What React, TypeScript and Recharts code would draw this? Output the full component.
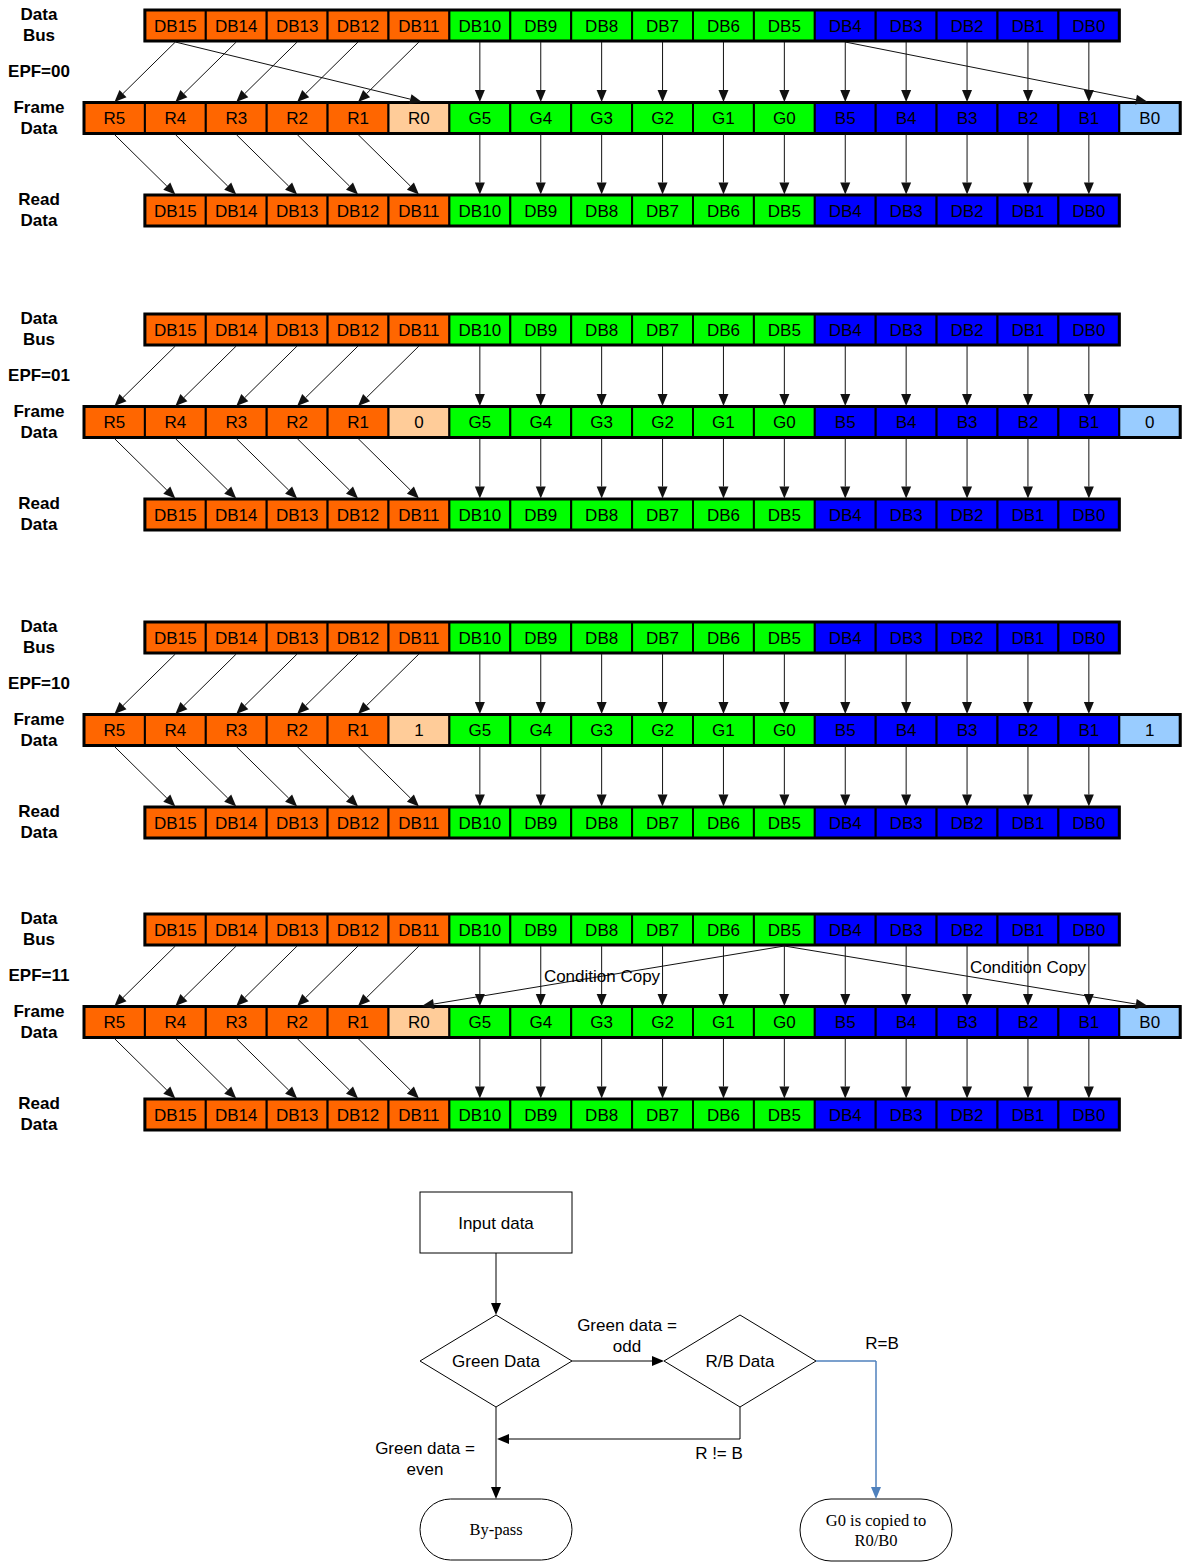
import React from "react";
import { ComposedChart, XAxis, YAxis, ReferenceArea, ReferenceLine, ReferenceDot } from "recharts";

const W = 1191;
const H = 1564;

// ---- data ----
const epfModes = ["EPF=00", "EPF=01", "EPF=10", "EPF=11"];
const busLabels = ["DB15", "DB14", "DB13", "DB12", "DB11", "DB10", "DB9", "DB8", "DB7", "DB6", "DB5", "DB4", "DB3", "DB2", "DB1", "DB0"];
const frameRed = ["R5", "R4", "R3", "R2", "R1"];
const frameGreen = ["G5", "G4", "G3", "G2", "G1", "G0"];
const frameBlue = ["B5", "B4", "B3", "B2", "B1"];
const redLsb = ["R0", "0", "1", "R0"];
const blueLsb = ["B0", "0", "1", "B0"];
const rowNames = [["Data", "Bus"], ["Frame", "Data"], ["Read", "Data"]];

// extra links into the LSB cells, per EPF mode
const lsbLinks = [
  [{ from: "DB15", to: "R0", label: "" }, { from: "DB4", to: "B0", label: "" }],
  [],
  [],
  [{ from: "DB5", to: "R0", label: "Condition Copy" }, { from: "DB5", to: "B0", label: "Condition Copy" }],
];

const flowTexts = [["Input data"], ["Green Data"], ["R/B Data"], ["By-pass"], ["G0 is copied to", "R0/B0"]];
const flowNotes = [["Green data =", "odd"], ["R != B"], ["Green data =", "even"], ["R=B"]];

// ---- layout ----
const X0 = 84;
const CW = 60.9;
const CH = 31;
const blockTop = [10, 314, 622, 914];
const FRAME_OFF = 92.5;
const READ_OFF = 185;
const condLabelPos = [{ x: 602, dy: 62 }, { x: 1028, dy: 53 }];

const flowBoxes = [
  { kind: "rect", x1: 420, x2: 572, y1: 1192, y2: 1253 },
  { kind: "diamond", x1: 420, x2: 572, y1: 1315, y2: 1407 },
  { kind: "diamond", x1: 664, x2: 816, y1: 1315, y2: 1407 },
  { kind: "stadium", x1: 420, x2: 572, y1: 1499, y2: 1560 },
  { kind: "stadium", x1: 800, x2: 952, y1: 1499, y2: 1561 },
];
const flowNotePos = [{ x: 627, y: 1325 }, { x: 719, y: 1453 }, { x: 425, y: 1448 }, { x: 882, y: 1343 }];
const flowEdges = [
  { a: [496, 1253], b: [496, 1315], head: true, blue: false },
  { a: [572, 1361], b: [664, 1361], head: true, blue: false },
  { a: [740, 1407], b: [740, 1439], head: false, blue: false },
  { a: [740, 1439], b: [497, 1439], head: true, blue: false },
  { a: [496, 1407], b: [496, 1499], head: true, blue: false },
  { a: [816, 1361], b: [876, 1361], head: false, blue: true },
  { a: [876, 1361], b: [876, 1499], head: true, blue: true },
];

const COLORS: Record<string, string> = {
  red: "#FF6600",
  redLsb: "#FFCC99",
  green: "#00FF00",
  blue: "#0000FF",
  blueLsb: "#99CCFF",
};
const SANS = "'Liberation Sans', Arial, sans-serif";
const SERIF = "'Liberation Serif', 'Times New Roman', serif";

const colLeft = (c: number) => X0 + c * CW;
const colCenter = (c: number) => X0 + c * CW + CW / 2;
const busKind = (i: number) => (i < 5 ? "red" : i < 11 ? "green" : "blue");
const frameKind = (c: number) =>
  c < 5 ? "red" : c === 5 ? "redLsb" : c < 12 ? "green" : c < 17 ? "blue" : "blueLsb";
const lsbCol: Record<string, number> = { R0: 5, B0: 17 };

const cellShape = (text: string) => (p: any) => (
  <g>
    <rect x={p.x} y={p.y} width={p.width} height={p.height} fill={p.fill} stroke="#000" strokeWidth={2} />
    <text x={p.x + p.width / 2} y={p.y + p.height / 2} dy="0.36em" textAnchor="middle"
      fontFamily={SANS} fontSize={17} fill="#000">{text}</text>
  </g>
);

const arrowShape = (color: string, head: boolean, width = 1) => (p: any) => {
  const x1 = +p.x1, y1 = +p.y1, x2 = +p.x2, y2 = +p.y2;
  const dx = x2 - x1, dy = y2 - y1;
  const len = Math.hypot(dx, dy) || 1;
  const ux = dx / len, uy = dy / len;
  const hl = 12, hw = 5;
  const bx = x2 - ux * hl, by = y2 - uy * hl;
  return (
    <g>
      <line x1={x1} y1={y1} x2={head ? bx : x2} y2={head ? by : y2} stroke={color} strokeWidth={width} />
      {head && (
        <polygon
          points={`${x2},${y2} ${bx - uy * hw},${by + ux * hw} ${bx + uy * hw},${by - ux * hw}`}
          fill={color}
        />
      )}
    </g>
  );
};

const textShape = (lines: string[], opts: { bold?: boolean; size?: number; serif?: boolean; gap?: number; top?: boolean }) => (p: any) => {
  const size = opts.size ?? 17;
  const gap = opts.gap ?? 21;
  const start = opts.top ? p.cy : p.cy - ((lines.length - 1) * gap) / 2;
  return (
    <g>
      {lines.map((l, k) => (
        <text key={k} x={p.cx} y={start + k * gap} dy="0.36em" textAnchor="middle"
          fontFamily={opts.serif ? SERIF : SANS} fontWeight={opts.bold ? "bold" : "normal"}
          fontSize={size} fill="#000">{l}</text>
      ))}
    </g>
  );
};

const flowShape = (kind: string, lines: string[]) => (p: any) => {
  const { x, y, width: w, height: h } = p;
  const cx = x + w / 2, cy = y + h / 2;
  const serif = kind === "stadium";
  let outline;
  if (kind === "diamond") {
    outline = <polygon points={`${cx},${y} ${x + w},${cy} ${cx},${y + h} ${x},${cy}`} fill="#fff" stroke="#000" strokeWidth={1} />;
  } else if (kind === "stadium") {
    outline = <rect x={x} y={y} width={w} height={h} rx={h / 2} ry={h / 2} fill="#fff" stroke="#000" strokeWidth={1} />;
  } else {
    outline = <rect x={x} y={y} width={w} height={h} fill="#fff" stroke="#000" strokeWidth={1} />;
  }
  const gap = 20;
  const start = cy - ((lines.length - 1) * gap) / 2;
  return (
    <g>
      {outline}
      {lines.map((l, k) => (
        <text key={k} x={cx} y={start + k * gap} dy="0.36em" textAnchor="middle"
          fontFamily={serif ? SERIF : SANS} fontSize={serif ? 16.5 : 17} fill="#000">{l}</text>
      ))}
    </g>
  );
};

export default function App() {
  const blocks = epfModes.map((mode, m) => {
    const top = blockTop[m];
    const busY = [top, top + CH];
    const frameY = [top + FRAME_OFF, top + FRAME_OFF + CH];
    const readY = [top + READ_OFF, top + READ_OFF + CH];
    const frameLabels = [...frameRed, redLsb[m], ...frameGreen, ...frameBlue, blueLsb[m]];
    const els: React.ReactNode[] = [];

    // arrows bus -> frame
    busLabels.forEach((_, i) => {
      const c = i + 1;
      const t = c <= 5 ? c - 1 : c;
      els.push(
        <ReferenceLine key={`bf-${m}-${i}`} segment={[{ x: colCenter(c), y: busY[1] + 1 }, { x: colCenter(t), y: frameY[0] - 0.5 }]}
          shape={arrowShape("#111", true)} />
      );
    });
    // arrows frame -> read
    frameLabels.forEach((_, c) => {
      if (c === 5 || c === 17) return;
      const t = c < 5 ? c + 1 : c;
      els.push(
        <ReferenceLine key={`fr-${m}-${c}`} segment={[{ x: colCenter(c), y: frameY[1] + 1 }, { x: colCenter(t), y: readY[0] - 0.5 }]}
          shape={arrowShape("#111", true)} />
      );
    });
    // LSB links
    lsbLinks[m].forEach((lk, k) => {
      const c = busLabels.indexOf(lk.from) + 1;
      const t = lsbCol[lk.to];
      els.push(
        <ReferenceLine key={`lsb-${m}-${k}`} segment={[{ x: colCenter(c), y: busY[1] + 1 }, { x: colCenter(t) + (t === 5 ? 3 : -2), y: frameY[0] - 0.5 }]}
          shape={arrowShape("#111", true)} />
      );
      if (lk.label) {
        els.push(
          <ReferenceDot key={`lsbl-${m}-${k}`} x={condLabelPos[k].x} y={top + condLabelPos[k].dy} r={0}
            shape={textShape([lk.label], {})} />
        );
      }
    });

    // cells
    busLabels.forEach((lab, i) => {
      els.push(
        <ReferenceArea key={`b-${m}-${i}`} x1={colLeft(i + 1)} x2={colLeft(i + 2)} y1={busY[0]} y2={busY[1]}
          fill={COLORS[busKind(i)]} fillOpacity={1} shape={cellShape(lab)} />
      );
      els.push(
        <ReferenceArea key={`r-${m}-${i}`} x1={colLeft(i + 1)} x2={colLeft(i + 2)} y1={readY[0]} y2={readY[1]}
          fill={COLORS[busKind(i)]} fillOpacity={1} shape={cellShape(lab)} />
      );
    });
    frameLabels.forEach((lab, c) => {
      els.push(
        <ReferenceArea key={`f-${m}-${c}`} x1={colLeft(c)} x2={colLeft(c + 1)} y1={frameY[0]} y2={frameY[1]}
          fill={COLORS[frameKind(c)]} fillOpacity={1} shape={cellShape(lab)} />
      );
    });
    // row outlines
    [
      [1, 17, busY],
      [0, 18, frameY],
      [1, 17, readY],
    ].forEach(([a, b, ys]: any, k) => {
      els.push(
        <ReferenceArea key={`o-${m}-${k}`} x1={colLeft(a)} x2={colLeft(b)} y1={ys[0]} y2={ys[1]}
          fill="none" fillOpacity={0} stroke="#000" strokeWidth={3} />
      );
    });

    // row labels
    const rowCenters = [(busY[0] + busY[1]) / 2, (frameY[0] + frameY[1]) / 2, (readY[0] + readY[1]) / 2];
    rowNames.forEach((lines, k) => {
      els.push(
        <ReferenceDot key={`rn-${m}-${k}`} x={39} y={rowCenters[k] - 1} r={0} shape={textShape(lines, { bold: true })} />
      );
    });
    els.push(
      <ReferenceDot key={`epf-${m}`} x={39} y={(busY[1] + frameY[0]) / 2 - 1} r={0} shape={textShape([mode], { bold: true })} />
    );
    return els;
  });

  return (
    <div style={{ position: "absolute", left: 0, top: 0, width: W, height: H, background: "#fff" }}>
      <ComposedChart width={W} height={H} margin={{ top: 0, right: 0, bottom: 0, left: 0 }} data={[]}>
        <XAxis type="number" dataKey="x" domain={[0, W]} hide allowDataOverflow />
        <YAxis type="number" domain={[0, H]} reversed hide allowDataOverflow />
        {blocks}
        {flowEdges.map((e, i) => (
          <ReferenceLine key={`fe-${i}`} segment={[{ x: e.a[0], y: e.a[1] }, { x: e.b[0], y: e.b[1] }]}
            shape={arrowShape(e.blue ? "#4F81BD" : "#000", e.head, e.blue ? 1.5 : 1)} />
        ))}
        {flowBoxes.map((b, i) => (
          <ReferenceArea key={`fb-${i}`} x1={b.x1} x2={b.x2} y1={b.y1} y2={b.y2} fill="#fff" fillOpacity={1}
            shape={flowShape(b.kind, flowTexts[i])} />
        ))}
        {flowNotes.map((lines, i) => (
          <ReferenceDot key={`fn-${i}`} x={flowNotePos[i].x} y={flowNotePos[i].y} r={0}
            shape={textShape(lines, { top: true })} />
        ))}
      </ComposedChart>
    </div>
  );
}
